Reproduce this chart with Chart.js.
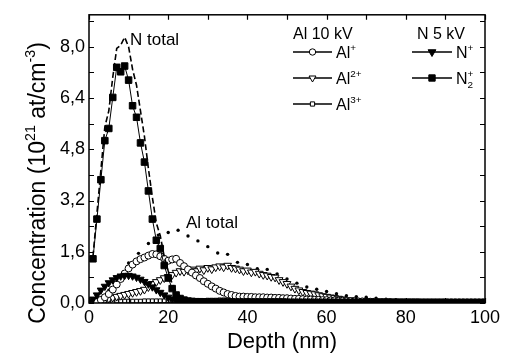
<!DOCTYPE html>
<html>
<head>
<meta charset="utf-8">
<script src="https://cdn.jsdelivr.net/npm/chart.js@4.4.1/dist/chart.umd.min.js"></script>
<style>
  html, body { margin: 0; padding: 0; background: #fff; }
  #wrap { width: 505px; height: 353px; }
</style>
</head>
<body>
<div id="wrap"><canvas id="depthChart"></canvas></div>
<script>
// depth profile, 1 nm steps
const depth = [0,1,2,3,4,5,6,7,8,9,10,11,12,13,14,15,16,17,18,19,20,21,22,23,24,25,26,27,28,29,30,
  31,32,33,34,35,36,37,38,39,40,41,42,43,44,45,46,47,48,49,50,51,52,53,54,55,56,57,58,59,60,
  61,62,63,64,65,66,67,68,69,70,71,72,73,74,75,76,77,78,79,80,81,82,83,84,85,86,87,88,89,90,
  91,92,93,94,95,96,97,98,99,100];

// N 5 kV
const nTwoPlus = [null,1.38,2.62,3.85,5.07,5.45,6.42,7.36,7.22,7.40,
  6.96,6.16,5.80,5.00,4.40,3.50,2.62,1.96,1.70,1.17,
  0.78,0.45,0.25,0.14,0.09,0.06,0.05,0.04,0.04,0.03,
  0.03,0.03,0.03,0.03,0.03,0.03,0.03,0.03,0.03,0.03,
  0.03,0.03,0.03,0.03,0.03,0.03,0.03,0.03,0.03,0.03,
  0.02,0.02,0.02,0.02,0.02,0.02,0.02,0.02,0.02,0.02,
  0.02,0.02,0.02,0.02,0.02,0.02,0.02,0.02,0.02,0.02,
  0.02,0.02,0.02,0.02,0.02,0.02,0.02,0.02,0.02,0.02,
  0.02,0.02,0.02,0.02,0.02,0.02,0.02,0.02,0.02,0.02,
  0.02,0.02,0.02,0.02,0.02,0.02,0.02,0.02,0.02,0.02,0.02];
const nPlus = [0.02,0.12,0.25,0.40,0.52,0.63,0.72,0.79,0.84,0.86,
  0.86,0.84,0.80,0.74,0.67,0.59,0.50,0.41,0.33,0.25,
  0.18,0.12,0.08,0.05,0.03,0.02,0.02,0.02,0.02,0.02,
  0.02,0.02,0.02,0.02,0.02,0.02,0.02,0.02,0.02,0.02,
  0.02,0.02,0.02,0.02,0.02,0.02,0.02,0.02,0.02,0.02,0.02];
const nTotal = [null,1.45,2.80,4.15,5.50,6.00,7.05,7.95,8.05,8.30,
  8.00,7.30,6.80,6.00,5.20,4.20,3.30,2.50,2.10,1.45,
  1.00,0.60,0.36,0.22,0.14,0.10,0.08,0.07,0.06,0.05,
  0.05,0.05,0.04,0.04,0.04,0.04,0.03,0.03,0.03,0.03,0.03];

// Al 10 kV
const alPlus = [0.00,0.02,0.05,0.10,0.18,0.28,0.42,0.58,0.75,0.92,
  1.08,1.20,1.30,1.37,1.42,1.48,1.53,1.52,1.46,1.38,
  1.32,1.36,1.38,1.25,1.15,1.05,0.95,0.86,0.78,0.68,
  0.60,0.52,0.45,0.38,0.33,0.28,0.25,0.22,0.20,0.20,
  0.19,0.19,0.18,0.18,0.18,0.17,0.17,0.16,0.16,0.15,
  0.15,0.14,0.13,0.13,0.12,0.11,0.11,0.10,0.10,0.09,
  0.09,0.08,0.08,0.07,0.07,0.06,0.06,0.05,0.05,0.05,
  0.04,0.04,0.04,0.03,0.03,0.03,0.03,0.02,0.02,0.02,
  0.02,0.02,0.02,0.02,0.01,0.01,0.01,0.01,0.01,0.01,0.01];
const alTwoPlus = [0.00,0.02,0.05,0.08,0.11,0.14,0.17,0.20,0.23,0.26,
  0.29,0.32,0.35,0.38,0.42,0.50,0.60,0.66,0.72,0.78,
  0.82,0.88,0.95,1.00,0.98,1.02,1.05,1.00,1.08,1.03,
  1.10,1.06,1.12,1.15,1.12,1.17,1.10,1.08,1.05,1.00,
  1.02,0.96,0.98,0.92,0.88,0.86,0.82,0.80,0.72,0.66,
  0.60,0.52,0.45,0.40,0.35,0.32,0.30,0.28,0.25,0.22,
  0.20,0.18,0.16,0.14,0.12,0.10,0.09,0.08,0.07,0.06,
  0.05,0.05,0.04,0.04,0.03,0.03,0.03,0.02,0.02,0.02,
  0.02,0.02,0.01,0.01,0.01,0.01,0.01,0.01,0.01,0.01,0.01];
const alThreePlus = [0.00,0.01,0.02,0.03,0.04,0.05,0.05,0.06,0.06,0.06,
  0.06,0.06,0.06,0.06,0.07,0.07,0.07,0.07,0.07,0.07,
  0.07,0.07,0.07,0.07,0.07,0.08,0.08,0.08,0.08,0.08,
  0.09,0.09,0.09,0.10,0.10,0.10,0.11,0.11,0.11,0.12,
  0.12,0.12,0.12,0.12,0.12,0.12,0.12,0.11,0.11,0.11,
  0.10,0.10,0.10,0.09,0.09,0.09,0.08,0.08,0.08,0.07,
  0.07,0.07,0.06,0.06,0.06,0.05,0.05,0.05,0.05,0.04,
  0.04,0.04,0.04,0.03,0.03,0.03,0.03,0.03,0.02,0.02,
  0.02,0.02,0.02,0.02,0.02,0.02,0.01,0.01,0.01,0.01,
  0.01,0.01,0.01,0.01,0.01,0.01,0.01,0.01,0.01,0.01,0.01];
const alTotalDepth = [0,2.5,5,7.5,10,12.5,15,17.5,20,22.5,25,27.5,30,32.5,35,37.5,40,42.5,45,47.5,
  50,52.5,55,57.5,60,62.5,65,67.5,70,72.5,75,77.5,80,82.5,85,87.5,90,92.5,95,97.5,100];
const alTotal = [0.00,0.12,0.40,0.85,1.25,1.55,1.86,2.12,2.20,2.27,2.09,1.94,1.76,1.56,1.52,1.27,1.20,1.07,1.05,0.91,
  0.75,0.62,0.50,0.43,0.36,0.29,0.23,0.20,0.18,0.15,0.12,0.10,0.08,0.06,0.05,0.04,0.03,0.02,0.02,0.01,0.01];

// axes
const xTickLabels = [0, 20, 40, 60, 80, 100];
const yTickLabels = [0, 1.6, 3.2, 4.8, 6.4, 8.0];
const xTickMarks = [0, 10, 20, 30, 40, 50, 60, 70, 80, 90, 100];
const yTickMarks = [0, 0.8, 1.6, 2.4, 3.2, 4.0, 4.8, 5.6, 6.4, 7.2, 8.0, 8.8];

const FONT = "'Liberation Sans', Arial, sans-serif";

function toPoints(xs, ys) {
  const out = [];
  for (let i = 0; i < ys.length; i++) {
    if (ys[i] !== null) out.push({ x: xs[i], y: ys[i] });
  }
  return out;
}

// text with superscripts / subscripts: parts = [[text, mode, stack]]
// mode 0 normal, 1 sup, 2 sub; stack puts the part over the previous one
function richWidth(ctx, parts, size) {
  let w = 0, lastW = 0;
  parts.forEach(p => {
    const s = p[1] ? size * 0.62 : size;
    ctx.font = s + 'px ' + FONT;
    const pw = ctx.measureText(p[0]).width;
    if (p[2]) { w += Math.max(0, pw - lastW); lastW = Math.max(pw, lastW); }
    else { w += pw; lastW = pw; }
  });
  return w;
}

function drawRich(ctx, parts, x, y, size, align) {
  let cx = align === 'center' ? x - richWidth(ctx, parts, size) / 2 : x;
  let prevX = cx, lastW = 0;
  ctx.textAlign = 'left';
  ctx.textBaseline = 'alphabetic';
  parts.forEach(p => {
    const s = p[1] ? size * 0.62 : size;
    ctx.font = s + 'px ' + FONT;
    const pw = ctx.measureText(p[0]).width;
    const dy = p[1] === 1 ? -size * 0.42 : (p[1] === 2 ? size * 0.22 : 0);
    if (p[2]) {
      ctx.fillText(p[0], prevX, y + dy);
      cx = prevX + Math.max(pw, lastW);
    } else {
      ctx.fillText(p[0], cx, y + dy);
      prevX = cx; lastW = pw;
      cx += pw;
    }
  });
}

const legendRows = [
  { col: 0, row: 0, style: 'circle', r: 3.2, rot: 0, fill: '#fff', label: [['Al', 0], ['+', 1]] },
  { col: 0, row: 1, style: 'triangle', r: 4, rot: 180, fill: '#fff', label: [['Al', 0], ['2+', 1]] },
  { col: 0, row: 2, style: 'rect', r: 3, rot: 0, fill: '#fff', label: [['Al', 0], ['3+', 1]] },
  { col: 1, row: 0, style: 'triangle', r: 4.5, rot: 180, fill: '#000', label: [['N', 0], ['+', 1]] },
  { col: 1, row: 1, style: 'rect', r: 4.5, rot: 0, fill: '#000', label: [['N', 0], ['2', 2], ['+', 1, true]] }
];

const framePlugin = {
  id: 'frame',
  afterDatasetsDraw(chart) {
    const { ctx, chartArea: a, scales } = chart;
    ctx.save();
    ctx.strokeStyle = '#000';
    ctx.lineWidth = 1.5;
    ctx.strokeRect(a.left, a.top, a.right - a.left, a.bottom - a.top);
    ctx.lineWidth = 1.2;
    ctx.beginPath();
    xTickMarks.forEach(v => {
      const px = Math.round(scales.x.getPixelForValue(v)) + 0.5;
      ctx.moveTo(px, a.bottom); ctx.lineTo(px, a.bottom - 5);
      ctx.moveTo(px, a.top); ctx.lineTo(px, a.top + 5);
    });
    yTickMarks.forEach(v => {
      const py = Math.round(scales.y.getPixelForValue(v)) + 0.5;
      ctx.moveTo(a.left, py); ctx.lineTo(a.left + 5, py);
      ctx.moveTo(a.right, py); ctx.lineTo(a.right - 5, py);
    });
    ctx.stroke();
    ctx.restore();
  },
  afterDraw(chart) {
    const ctx = chart.ctx;
    ctx.save();
    ctx.fillStyle = '#000';

    // axis titles
    ctx.font = '22px ' + FONT;
    ctx.textAlign = 'center';
    ctx.textBaseline = 'alphabetic';
    ctx.fillText('Depth (nm)', 282, 348);

    ctx.save();
    ctx.translate(45, 183);
    ctx.rotate(-Math.PI / 2);
    drawRich(ctx, [['Concentration (10', 0], ['21', 1], [' at/cm', 0], ['-3', 1], [')', 0]], 0, 0, 23, 'center');
    ctx.restore();

    // curve labels
    ctx.font = '17px ' + FONT;
    ctx.textAlign = 'left';
    ctx.fillText('N total', 130, 45);
    ctx.fillText('Al total', 186, 228);

    // legend
    ctx.font = '16px ' + FONT;
    ctx.fillText('Al 10 kV', 293, 39);
    ctx.fillText('N 5 kV', 417, 39);
    const colX = [[293, 332, 312.5, 336], [412, 452, 432, 456]];
    const rowY = [52, 78, 104];
    legendRows.forEach(e => {
      const c = colX[e.col];
      const y = rowY[e.row];
      ctx.strokeStyle = '#000';
      ctx.lineWidth = 1.3;
      ctx.beginPath();
      ctx.moveTo(c[0], y); ctx.lineTo(c[1], y);
      ctx.stroke();
      ctx.fillStyle = e.fill;
      ctx.lineWidth = 1;
      Chart.helpers.drawPoint(ctx, { pointStyle: e.style, radius: e.r, rotation: e.rot, borderWidth: 1 }, c[2], y);
      ctx.fillStyle = '#000';
      drawRich(ctx, e.label, c[3], y + 6, 16, 'left');
    });
    ctx.restore();
  }
};

const ctx = document.getElementById('depthChart').getContext('2d');
new Chart(ctx, {
  type: 'scatter',
  data: {
    datasets: [
      {
        label: 'N2+',
        data: toPoints(depth, nTwoPlus),
        showLine: true,
        borderColor: '#000',
        borderWidth: 1,
        pointStyle: 'rect',
        pointRadius: 4.6,
        pointBackgroundColor: '#000',
        pointBorderColor: '#000',
        pointBorderWidth: 1
      },
      {
        label: 'N+',
        data: toPoints(depth, nPlus),
        showLine: true,
        borderColor: '#000',
        borderWidth: 1,
        pointStyle: 'triangle',
        pointRotation: 180,
        pointRadius: 4.2,
        pointBackgroundColor: '#000',
        pointBorderColor: '#000',
        pointBorderWidth: 1
      },
      {
        label: 'N total',
        data: toPoints(depth, nTotal),
        showLine: true,
        borderColor: '#000',
        borderWidth: 1.6,
        borderDash: [6, 3],
        pointRadius: 0
      },
      {
        label: 'Al+',
        data: toPoints(depth, alPlus),
        showLine: true,
        borderColor: '#000',
        borderWidth: 1,
        pointStyle: 'circle',
        pointRadius: 3.5,
        pointBackgroundColor: '#fff',
        pointBorderColor: '#000',
        pointBorderWidth: 1
      },
      {
        label: 'Al2+',
        data: toPoints(depth, alTwoPlus),
        showLine: true,
        borderColor: '#000',
        borderWidth: 1,
        pointStyle: 'triangle',
        pointRotation: 180,
        pointRadius: 4.5,
        pointBackgroundColor: '#fff',
        pointBorderColor: '#000',
        pointBorderWidth: 1
      },
      {
        label: 'Al3+',
        data: toPoints(depth, alThreePlus),
        showLine: true,
        borderColor: '#000',
        borderWidth: 1,
        pointStyle: 'rect',
        pointRadius: 2.6,
        pointBackgroundColor: '#fff',
        pointBorderColor: '#000',
        pointBorderWidth: 1
      },
      {
        label: 'Al total',
        data: toPoints(alTotalDepth, alTotal),
        showLine: false,
        pointStyle: 'circle',
        pointRadius: 1.7,
        pointBackgroundColor: '#000',
        pointBorderColor: '#000',
        pointBorderWidth: 0
      }
    ]
  },
  options: {
    responsive: true,
    maintainAspectRatio: false,
    animation: false,
    layout: { padding: { left: 0, top: 11, right: 20, bottom: 0 } },
    plugins: {
      legend: { display: false },
      tooltip: { enabled: false }
    },
    scales: {
      x: {
        type: 'linear',
        min: 0,
        max: 100,
        afterBuildTicks: s => { s.ticks = xTickLabels.map(v => ({ value: v })); },
        afterFit: s => { s.height = 50; },
        grid: { display: false, drawTicks: false },
        border: { display: false },
        ticks: {
          color: '#000',
          font: { family: FONT, size: 18 },
          padding: 4,
          maxRotation: 0
        }
      },
      y: {
        type: 'linear',
        min: 0,
        max: 9,
        afterBuildTicks: s => { s.ticks = yTickLabels.map(v => ({ value: v })); },
        afterFit: s => { s.width = 89; },
        grid: { display: false, drawTicks: false },
        border: { display: false },
        ticks: {
          color: '#000',
          font: { family: FONT, size: 18 },
          padding: 4,
          callback: v => v.toFixed(1).replace('.', ',')
        }
      }
    }
  },
  plugins: [framePlugin]
});
</script>
</body>
</html>
